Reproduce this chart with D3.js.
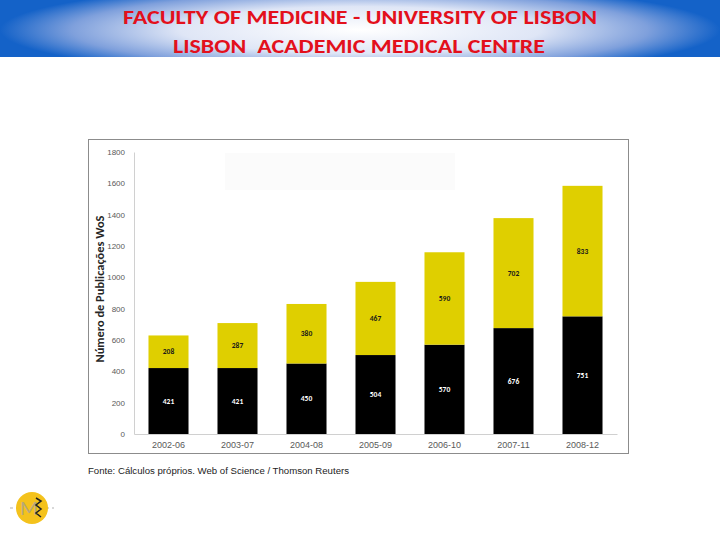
<!DOCTYPE html>
<html>
<head>
<meta charset="utf-8">
<script src="https://cdn.jsdelivr.net/npm/d3@7"></script>
<style>
  body { margin: 0; background: #fff; }
  svg { display: block; font-family: Calibri, Carlito, "Open Sans", sans-serif; }
  .tick text { fill: #595959; }
</style>
</head>
<body>
<div id="chart"></div>
<script>
/* publications chart */

const periods = ["2002-06", "2003-07", "2004-08", "2005-09", "2006-10", "2007-11", "2008-12"];
const lowerValues = [421, 421, 450, 504, 570, 676, 751];
const upperValues = [208, 287, 380, 467, 590, 702, 833];
const yTicks = [0, 200, 400, 600, 800, 1000, 1200, 1400, 1600, 1800];

(() => {
  'use strict';

  const size = { width: 720, height: 540 };
  // plot area inside the framed chart box
  const plot = { left: 134, right: 617, top: 152, bottom: 434 };

  const svg = d3.select("#chart").append("svg")
    .attr("width", size.width)
    .attr("height", size.height);

  // Header band
  const defs = svg.append("defs");
  const grad = defs.append("radialGradient")
    .attr("id", "hdr")
    .attr("gradientUnits", "userSpaceOnUse")
    .attr("cx", 360).attr("cy", 30).attr("r", 360)
    .attr("gradientTransform", "translate(360,30) scale(1,0.13) translate(-360,-30)");
  grad.append("stop").attr("offset", "0").attr("stop-color", "#ffffff");
  grad.append("stop").attr("offset", "0.5").attr("stop-color", "#dfe6f6");
  grad.append("stop").attr("offset", "0.8").attr("stop-color", "#7fa0dc");
  grad.append("stop").attr("offset", "1").attr("stop-color", "#1462c8");

  svg.append("rect")
    .attr("x", 0).attr("y", 0)
    .attr("width", size.width).attr("height", 57)
    .attr("fill", "#1462c8");
  svg.append("rect")
    .attr("x", 0).attr("y", 0)
    .attr("width", size.width).attr("height", 57)
    .attr("fill", "url(#hdr)");

  svg.append("text")
    .attr("x", 360).attr("y", 24)
    .attr("text-anchor", "middle")
    .attr("fill", "#e3101c")
    .attr("textLength", 474)
    .attr("lengthAdjust", "spacingAndGlyphs")
    .style("font-size", "20px")
    .style("font-weight", "bold")
    .text("FACULTY OF MEDICINE - UNIVERSITY OF LISBON");
  svg.append("text")
    .attr("x", 359).attr("y", 53)
    .attr("text-anchor", "middle")
    .attr("fill", "#e3101c")
    .attr("textLength", 372)
    .attr("lengthAdjust", "spacingAndGlyphs")
    .style("font-size", "20px")
    .style("font-weight", "bold")
    .style("white-space", "pre")
    .text("LISBON  ACADEMIC MEDICAL CENTRE");

  // Chart frame
  svg.append("rect")
    .attr("x", 88.5).attr("y", 139.5)
    .attr("width", 540).attr("height", 314)
    .attr("fill", "#fff")
    .attr("stroke", "#8c8c8c");

  // faint leftover legend box
  svg.append("rect")
    .attr("x", 225).attr("y", 153)
    .attr("width", 230).attr("height", 37)
    .attr("fill", "#fbfbfb");

  const xScale = d3.scaleBand()
    .domain(periods)
    .range([plot.left, plot.right])
    .paddingInner(0.42)
    .paddingOuter(0.21);

  const yScale = d3.scaleLinear()
    .domain([0, 1800])
    .range([plot.bottom, plot.top]);

  const yAxis = d3.axisLeft(yScale)
    .tickValues(yTicks)
    .tickFormat(d3.format("d"))
    .tickSize(0)
    .tickPadding(9);

  const xAxis = d3.axisBottom(xScale)
    .tickSize(0)
    .tickPadding(8);

  const yG = svg.append("g")
    .attr("transform", "translate(" + plot.left + ",0)")
    .call(yAxis);
  yG.select(".domain").attr("stroke", "#d0d0d0");
  yG.selectAll("text").style("font-size", "8px");

  const xG = svg.append("g")
    .attr("transform", "translate(0," + plot.bottom + ")")
    .call(xAxis);
  xG.select(".domain").attr("stroke", "#d0d0d0");
  xG.selectAll("text").style("font-size", "9px").attr("fill", "#404040");

  svg.append("text")
    .attr("transform", "rotate(-90)")
    .attr("x", -289)
    .attr("y", 104)
    .attr("text-anchor", "middle")
    .attr("fill", "#262626")
    .attr("textLength", 147)
    .attr("lengthAdjust", "spacingAndGlyphs")
    .style("font-size", "12px")
    .style("font-weight", "600")
    .text("Número de Publicações WoS");

  const rows = periods.map((p, i) => ({ p: p, lo: lowerValues[i], hi: upperValues[i] }));

  const bars = svg.append("g").selectAll("g")
    .data(rows)
    .join("g");

  bars.append("rect")
    .attr("x", d => xScale(d.p))
    .attr("width", xScale.bandwidth())
    .attr("y", d => yScale(d.lo))
    .attr("height", d => yScale(0) - yScale(d.lo))
    .attr("fill", "#000");

  bars.append("rect")
    .attr("x", d => xScale(d.p))
    .attr("width", xScale.bandwidth())
    .attr("y", d => yScale(d.lo + d.hi))
    .attr("height", d => yScale(d.lo) - yScale(d.lo + d.hi))
    .attr("fill", "#dfcf00");

  bars.append("text")
    .attr("x", d => xScale(d.p) + xScale.bandwidth() / 2)
    .attr("y", d => yScale(d.lo / 2))
    .attr("dy", "0.35em")
    .attr("text-anchor", "middle")
    .attr("fill", "#fff")
    .style("font-size", "7.5px")
    .style("font-weight", "bold")
    .text(d => d.lo);

  bars.append("text")
    .attr("x", d => xScale(d.p) + xScale.bandwidth() / 2)
    .attr("y", d => yScale(d.lo + d.hi / 2))
    .attr("dy", "0.35em")
    .attr("text-anchor", "middle")
    .attr("fill", "#1a1a1a")
    .style("font-size", "7.5px")
    .style("font-weight", "bold")
    .text(d => d.hi);

  svg.append("text")
    .attr("x", 88).attr("y", 474)
    .attr("fill", "#222")
    .attr("textLength", 261)
    .attr("lengthAdjust", "spacingAndGlyphs")
    .style("font-family", "Arial, 'Liberation Sans', sans-serif")
    .style("font-size", "8.5px")
    .text("Fonte: Cálculos próprios. Web of Science / Thomson Reuters");

  // Logo
  const logo = svg.append("g").attr("transform", "translate(32,508)");
  logo.append("line")
    .attr("x1", -22).attr("x2", 22)
    .attr("stroke", "#d8d8d8").attr("stroke-width", 2)
    .attr("stroke-dasharray", "3,3");
  logo.append("circle").attr("r", 16).attr("fill", "#f4c21c");
  logo.append("text")
    .attr("x", -3).attr("y", 7)
    .attr("text-anchor", "middle")
    .attr("fill", "#b8a878")
    .style("font-size", "21px")
    .text("M");
  logo.append("path")
    .attr("d", "M4,-10 L9,-7 L4,-3 L9,1 L4,5 L9,9")
    .attr("fill", "none")
    .attr("stroke", "#222")
    .attr("stroke-width", 1.6);
})();
</script>
</body>
</html>
